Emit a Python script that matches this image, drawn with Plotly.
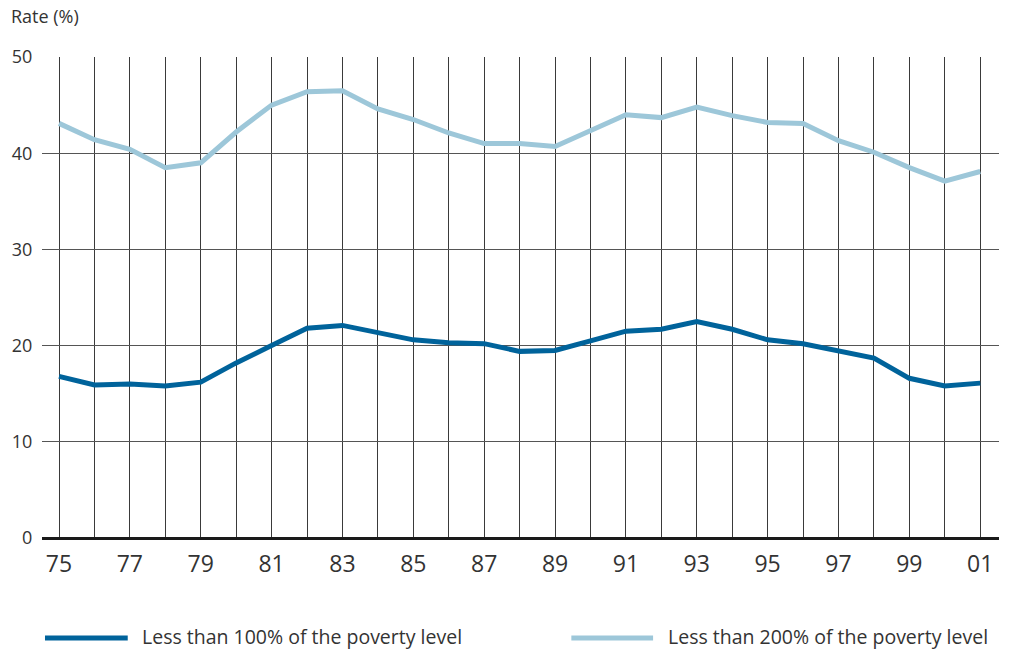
import plotly.graph_objects as go

years = ["75","76","77","78","79","80","81","82","83","84","85","86","87","88","89",
         "90","91","92","93","94","95","96","97","98","99","00","01"]
below_100 = [16.8,15.9,16.0,15.8,16.2,18.2,20.0,21.8,22.1,21.4,20.6,20.3,20.2,19.4,19.5,
             20.5,21.5,21.7,22.5,21.7,20.6,20.2,19.5,18.7,16.6,15.8,16.1]
below_200 = [43.1,41.4,40.4,38.5,39.0,42.2,45.0,46.4,46.5,44.6,43.5,42.1,41.0,41.0,40.7,
             42.4,44.0,43.7,44.8,43.9,43.2,43.1,41.3,40.1,38.5,37.1,38.1]
names = ["Less than 100% of the poverty level", "Less than 200% of the poverty level"]
colors = ["#00639b", "#9dc7d9"]
y_ticks = [0, 10, 20, 30, 40, 50]

FONT = "Open Sans"
TXT = "#333333"
xs = list(range(len(years)))

fig = go.Figure()
fig.add_trace(go.Scatter(x=xs, y=below_200, mode="lines", name=names[1],
                         line=dict(color=colors[1], width=5), showlegend=False))
fig.add_trace(go.Scatter(x=xs, y=below_100, mode="lines", name=names[0],
                         line=dict(color=colors[0], width=5), showlegend=False))

fig.update_layout(
    width=1011, height=650,
    margin=dict(l=39, r=12, t=57, b=112),
    paper_bgcolor="white", plot_bgcolor="white",
    font=dict(family=FONT, color=TXT),
    showlegend=False,
)
fig.update_xaxes(
    range=[-0.48, 26.53],
    tickvals=xs[::2], ticktext=years[::2],
    tickfont=dict(size=23, color=TXT),
    ticks="outside", ticklen=5, tickcolor="rgba(0,0,0,0)",
    showgrid=True, gridcolor="#3a3a3a", gridwidth=1,
    minor=dict(tickvals=xs[1::2], showgrid=True, gridcolor="#3a3a3a", gridwidth=1, ticks=""),
    showline=False, zeroline=False,
)
fig.update_yaxes(
    range=[0, 50], tickvals=y_ticks,
    tickfont=dict(size=18, color=TXT),
    ticks="outside", ticklen=5, tickcolor="rgba(0,0,0,0)",
    showgrid=True, gridcolor="#555555", gridwidth=1,
    zeroline=True, zerolinecolor="#1a1a1a", zerolinewidth=3,
    showline=False,
)

# Axis title
fig.add_annotation(text="Rate (%)", xref="paper", yref="paper", x=-33/960, y=1 + 41/481,
                   xanchor="left", yanchor="middle", showarrow=False,
                   font=dict(family=FONT, size=18, color=TXT))

# Custom legend (paper coordinates)
line_y = -(638 - 538) / 481
text_y = -(636 - 538) / 481
legend_items = [(42 - 39, 125 - 39, 137 - 39), (570 - 39, 652 - 39, 665 - 39)]
for i, (x0, x1, xt) in enumerate(legend_items):
    fig.add_shape(type="line", xref="paper", yref="paper",
                  x0=x0 / 960, x1=x1 / 960, y0=line_y, y1=line_y,
                  line=dict(color=colors[i], width=5))
    fig.add_annotation(text=names[i], xref="paper", yref="paper", x=xt / 960, y=text_y,
                       xanchor="left", yanchor="middle", showarrow=False,
                       font=dict(family=FONT, size=19.5, color=TXT))

fig.write_html("out.html", post_script="document.body.style.margin='0';",
               config={"displayModeBar": False})
